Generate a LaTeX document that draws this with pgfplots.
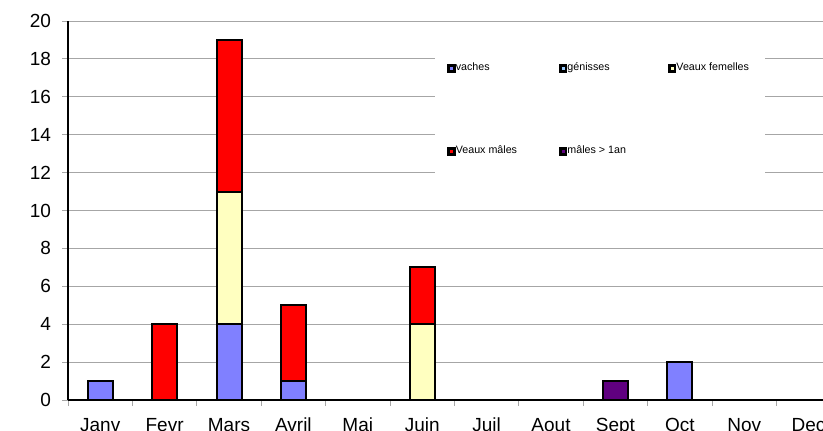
\documentclass[border=0pt]{standalone}
\usepackage{pgfplots}
\pgfplotsset{compat=1.18}
\usepackage{fontspec}
\setmainfont{Liberation Sans}
\definecolor{cvaches}{HTML}{8080FF}
\definecolor{cgen}{HTML}{99CCFF}
\definecolor{cvf}{HTML}{FFFFC0}
\definecolor{cvm}{HTML}{FF0000}
\definecolor{cmun}{HTML}{600080}
\definecolor{gridc}{HTML}{A6A6A6}
\begin{document}
\begin{tikzpicture}
\path[use as bounding box, clip] (0,0) rectangle (411.5pt,215pt);
\begin{axis}[
  at={(34pt,15pt)}, anchor=south west,
  scale only axis, width=386.4pt, height=189.5pt,
  xmin=-0.5, xmax=11.5, ymin=0, ymax=20,
  enlargelimits=false,
  ybar stacked, bar width=12.5pt,
  axis lines=left, axis line style={-, black, line width=0.65pt},
  ytick={0,2,...,20},
  ymajorgrids, major grid style={gridc, line width=0.5pt},
  xtick={-0.5,0.5,...,11.5}, xticklabels={},
  extra x ticks={0,1,2,3,4,5,6,7,8,9,10,11},
  extra x tick labels={Janv,Fevr,Mars,Avril,Mai,Juin,Juil,Aout,Sept,Oct,Nov,Dec},
  extra x tick style={major tick length=0pt, xticklabel style={yshift=-5.5pt}},
  tick align=outside,
  major tick length=3pt,
  tick style={gridc, line width=0.5pt},
  ticklabel style={font=\fontsize{9.5}{11}\selectfont},
  /pgf/number format/assume math mode=true,
  yticklabel style={xshift=-2pt},
  legend style={at={(0.4749,0.985)}, anchor=north west, draw=none, fill=white,
    font=\fontsize{5.35}{6}\selectfont, inner xsep=6pt, inner ysep=16pt,
    row sep=32pt,
    /tikz/every odd column/.append style={column sep=-2pt},
    /tikz/every even column/.append style={column sep=19pt}},
  legend columns=3,
  legend cell align=left,
  legend image code/.code={
     \fill[black] (0pt,-1.6pt) rectangle (3.2pt,1.6pt);
     \fill[#1, draw=none] (0.85pt,-0.75pt) rectangle (2.35pt,0.75pt);
  },
  every axis plot/.append style={draw=black, line width=1pt},
]
\addplot[fill=cvaches] coordinates {(0,1)(1,0)(2,4)(3,1)(4,0)(5,0)(6,0)(7,0)(8,0)(9,2)(10,0)(11,0)};
\addplot[fill=cgen] coordinates {(0,0)(1,0)(2,0)(3,0)(4,0)(5,0)(6,0)(7,0)(8,0)(9,0)(10,0)(11,0)};
\addplot[fill=cvf] coordinates {(0,0)(1,0)(2,7)(3,0)(4,0)(5,4)(6,0)(7,0)(8,0)(9,0)(10,0)(11,0)};
\addplot[fill=cvm] coordinates {(0,0)(1,4)(2,8)(3,4)(4,0)(5,3)(6,0)(7,0)(8,0)(9,0)(10,0)(11,0)};
\addplot[fill=cmun] coordinates {(0,0)(1,0)(2,0)(3,0)(4,0)(5,0)(6,0)(7,0)(8,1)(9,0)(10,0)(11,0)};
\legend{vaches,génisses,Veaux femelles,Veaux mâles,mâles > 1an}
\end{axis}
\end{tikzpicture}
\end{document}
